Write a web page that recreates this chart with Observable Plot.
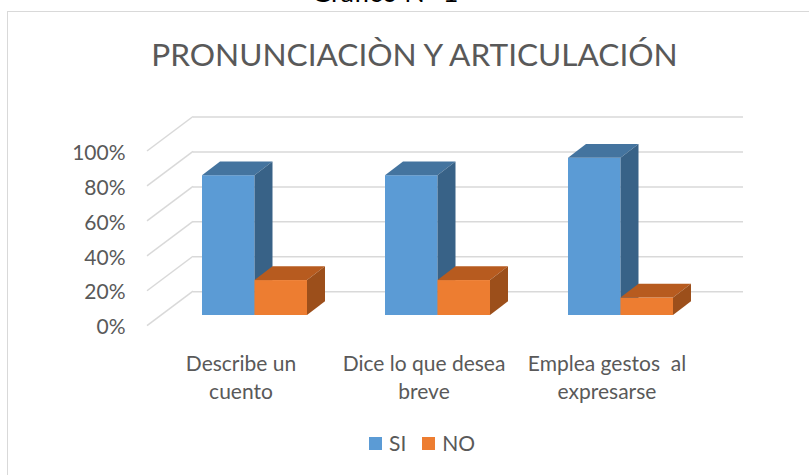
<!DOCTYPE html>
<html>
<head>
<meta charset="utf-8">
<script src="https://cdn.jsdelivr.net/npm/d3@7"></script>
<script src="https://cdn.jsdelivr.net/npm/@observablehq/plot@0.6"></script>
<style>
  html, body { margin: 0; padding: 0; background: #fff; }
  #wrap { position: relative; width: 809px; height: 475px; overflow: hidden; background: #fff; font-family: Lato, sans-serif; }
  #fig { position: absolute; left: 0; width: 770px; top: -22px; text-align: center; font-size: 27px; line-height: 27px; color: #000; white-space: nowrap; }
  #box { position: absolute; left: 6.5px; top: 11px; width: 1000px; height: 1000px; border: 1.5px solid #d9d9d9; }
  #title { position: absolute; left: 0; width: 829px; top: 38.7px; text-align: center; font-size: 31.6px; line-height: 31.6px; color: #595959; white-space: nowrap; }
  #chart { position: absolute; left: 0; top: 0; }
  #legend { position: absolute; left: 369px; top: 432.4px; display: flex; align-items: center; font-size: 21px; line-height: 21px; color: #595959; }
  #legend .sw { width: 13px; height: 13px; margin-right: 7px; margin-top: 1px; }
  #legend .lb { margin-right: 16px; }
</style>
</head>
<body>
<div id="wrap">
  <div id="box"></div>
  <div id="fig">Gráfico N° 1</div>
  <div id="title">PRONUNCIACIÒN Y ARTICULACIÓN</div>
  <div id="chart"></div>
  <div id="legend"></div>
</div>
<script>
// ---- data ----
const categories = ["Describe un\ncuento", "Dice lo que desea\nbreve", "Emplea gestos  al\nexpresarse"];
const seriesNames = ["SI", "NO"];
const siValues = [0.8, 0.8, 0.9];
const noValues = [0.2, 0.2, 0.1];
const yTicks = [0, 0.2, 0.4, 0.6, 0.8, 1];

// ---- styles / layout ----
const colors = {
  SI: {front: "#5b9bd5", top: "#44749f", side: "#386287"},
  NO: {front: "#ed7d31", top: "#b75b1f", side: "#9c4f1b"}
};
const W = 809, H = 475, ML = 148, MR = 111, MT = 151, MB = 149.3;
const BX = 45, BY = -34.5;     // back wall offset
const PX = 14, PY = -10.7;     // bar plane offset
const DX = 18, DY = -13.7;     // bar depth
const BARW = 52.5;
const GRID = "#d9d9d9";

const table = categories.flatMap((c, i) => [
  {category: c, series: "SI", value: siValues[i]},
  {category: c, series: "NO", value: noValues[i]}
]);

function bandwidth(scales, dims) {
  return typeof scales.x.bandwidth === "function"
    ? scales.x.bandwidth()
    : (dims.width - dims.marginLeft - dims.marginRight) / categories.length;
}

function bars3d(name, side) {
  const rows = table.filter(d => d.series === name);
  const c = colors[name];
  return (index, scales, values, dims) => {
    const g = d3.create("svg:g");
    const bw = bandwidth(scales, dims);
    for (const d of rows) {
      const cx = scales.x(d.category) + bw / 2 + PX;
      const x1 = side < 0 ? cx - BARW : cx;
      const x2 = x1 + BARW;
      const yb = scales.y(0) + PY;
      const yt = scales.y(d.value) + PY;
      g.append("rect").attr("x", x1).attr("y", yt).attr("width", BARW).attr("height", yb - yt).attr("fill", c.front);
      g.append("polygon").attr("points", [[x1, yt], [x2, yt], [x2 + DX, yt + DY], [x1 + DX, yt + DY]].join(" ")).attr("fill", c.top);
      g.append("polygon").attr("points", [[x2, yt], [x2 + DX, yt + DY], [x2 + DX, yb + DY], [x2, yb]].join(" ")).attr("fill", c.side);
    }
    return g.node();
  };
}

function diagonals(index, scales, values, dims) {
  const g = d3.create("svg:g").attr("stroke", GRID).attr("stroke-width", 1.5);
  const x0 = dims.marginLeft - 1;
  for (const t of yTicks) {
    const y = scales.y(t);
    g.append("line").attr("x1", x0).attr("y1", y).attr("x2", x0 + BX + 1).attr("y2", y + BY);
  }
  return g.node();
}

const chart = Plot.plot({
  width: W, height: H,
  marginLeft: ML, marginRight: MR, marginTop: MT, marginBottom: MB,
  style: {fontFamily: "Lato, sans-serif", color: "#595959", background: "transparent", overflow: "visible"},
  x: {type: "band", domain: categories, padding: 0, label: null},
  y: {domain: [0, 1], label: null},
  marks: [
    Plot.ruleY(yTicks, {dx: BX, dy: BY, stroke: GRID, strokeWidth: 1.5}),
    diagonals,
    bars3d("SI", -1),
    bars3d("NO", 1),
    Plot.axisY({ticks: yTicks, tickSize: 0, tickPadding: 23, tickFormat: d3.format(".0%"), fontSize: 21, dy: 1.5, label: null}),
    Plot.axisX({tickSize: 0, tickPadding: 24.4, fontSize: 21, lineHeight: 1.36, label: null})
  ]
});
document.getElementById("chart").appendChild(chart);

const legend = d3.select("#legend");
for (const s of seriesNames) {
  legend.append("div").attr("class", "sw").style("background", colors[s].front);
  legend.append("div").attr("class", "lb").text(s);
}
</script>
</body>
</html>
